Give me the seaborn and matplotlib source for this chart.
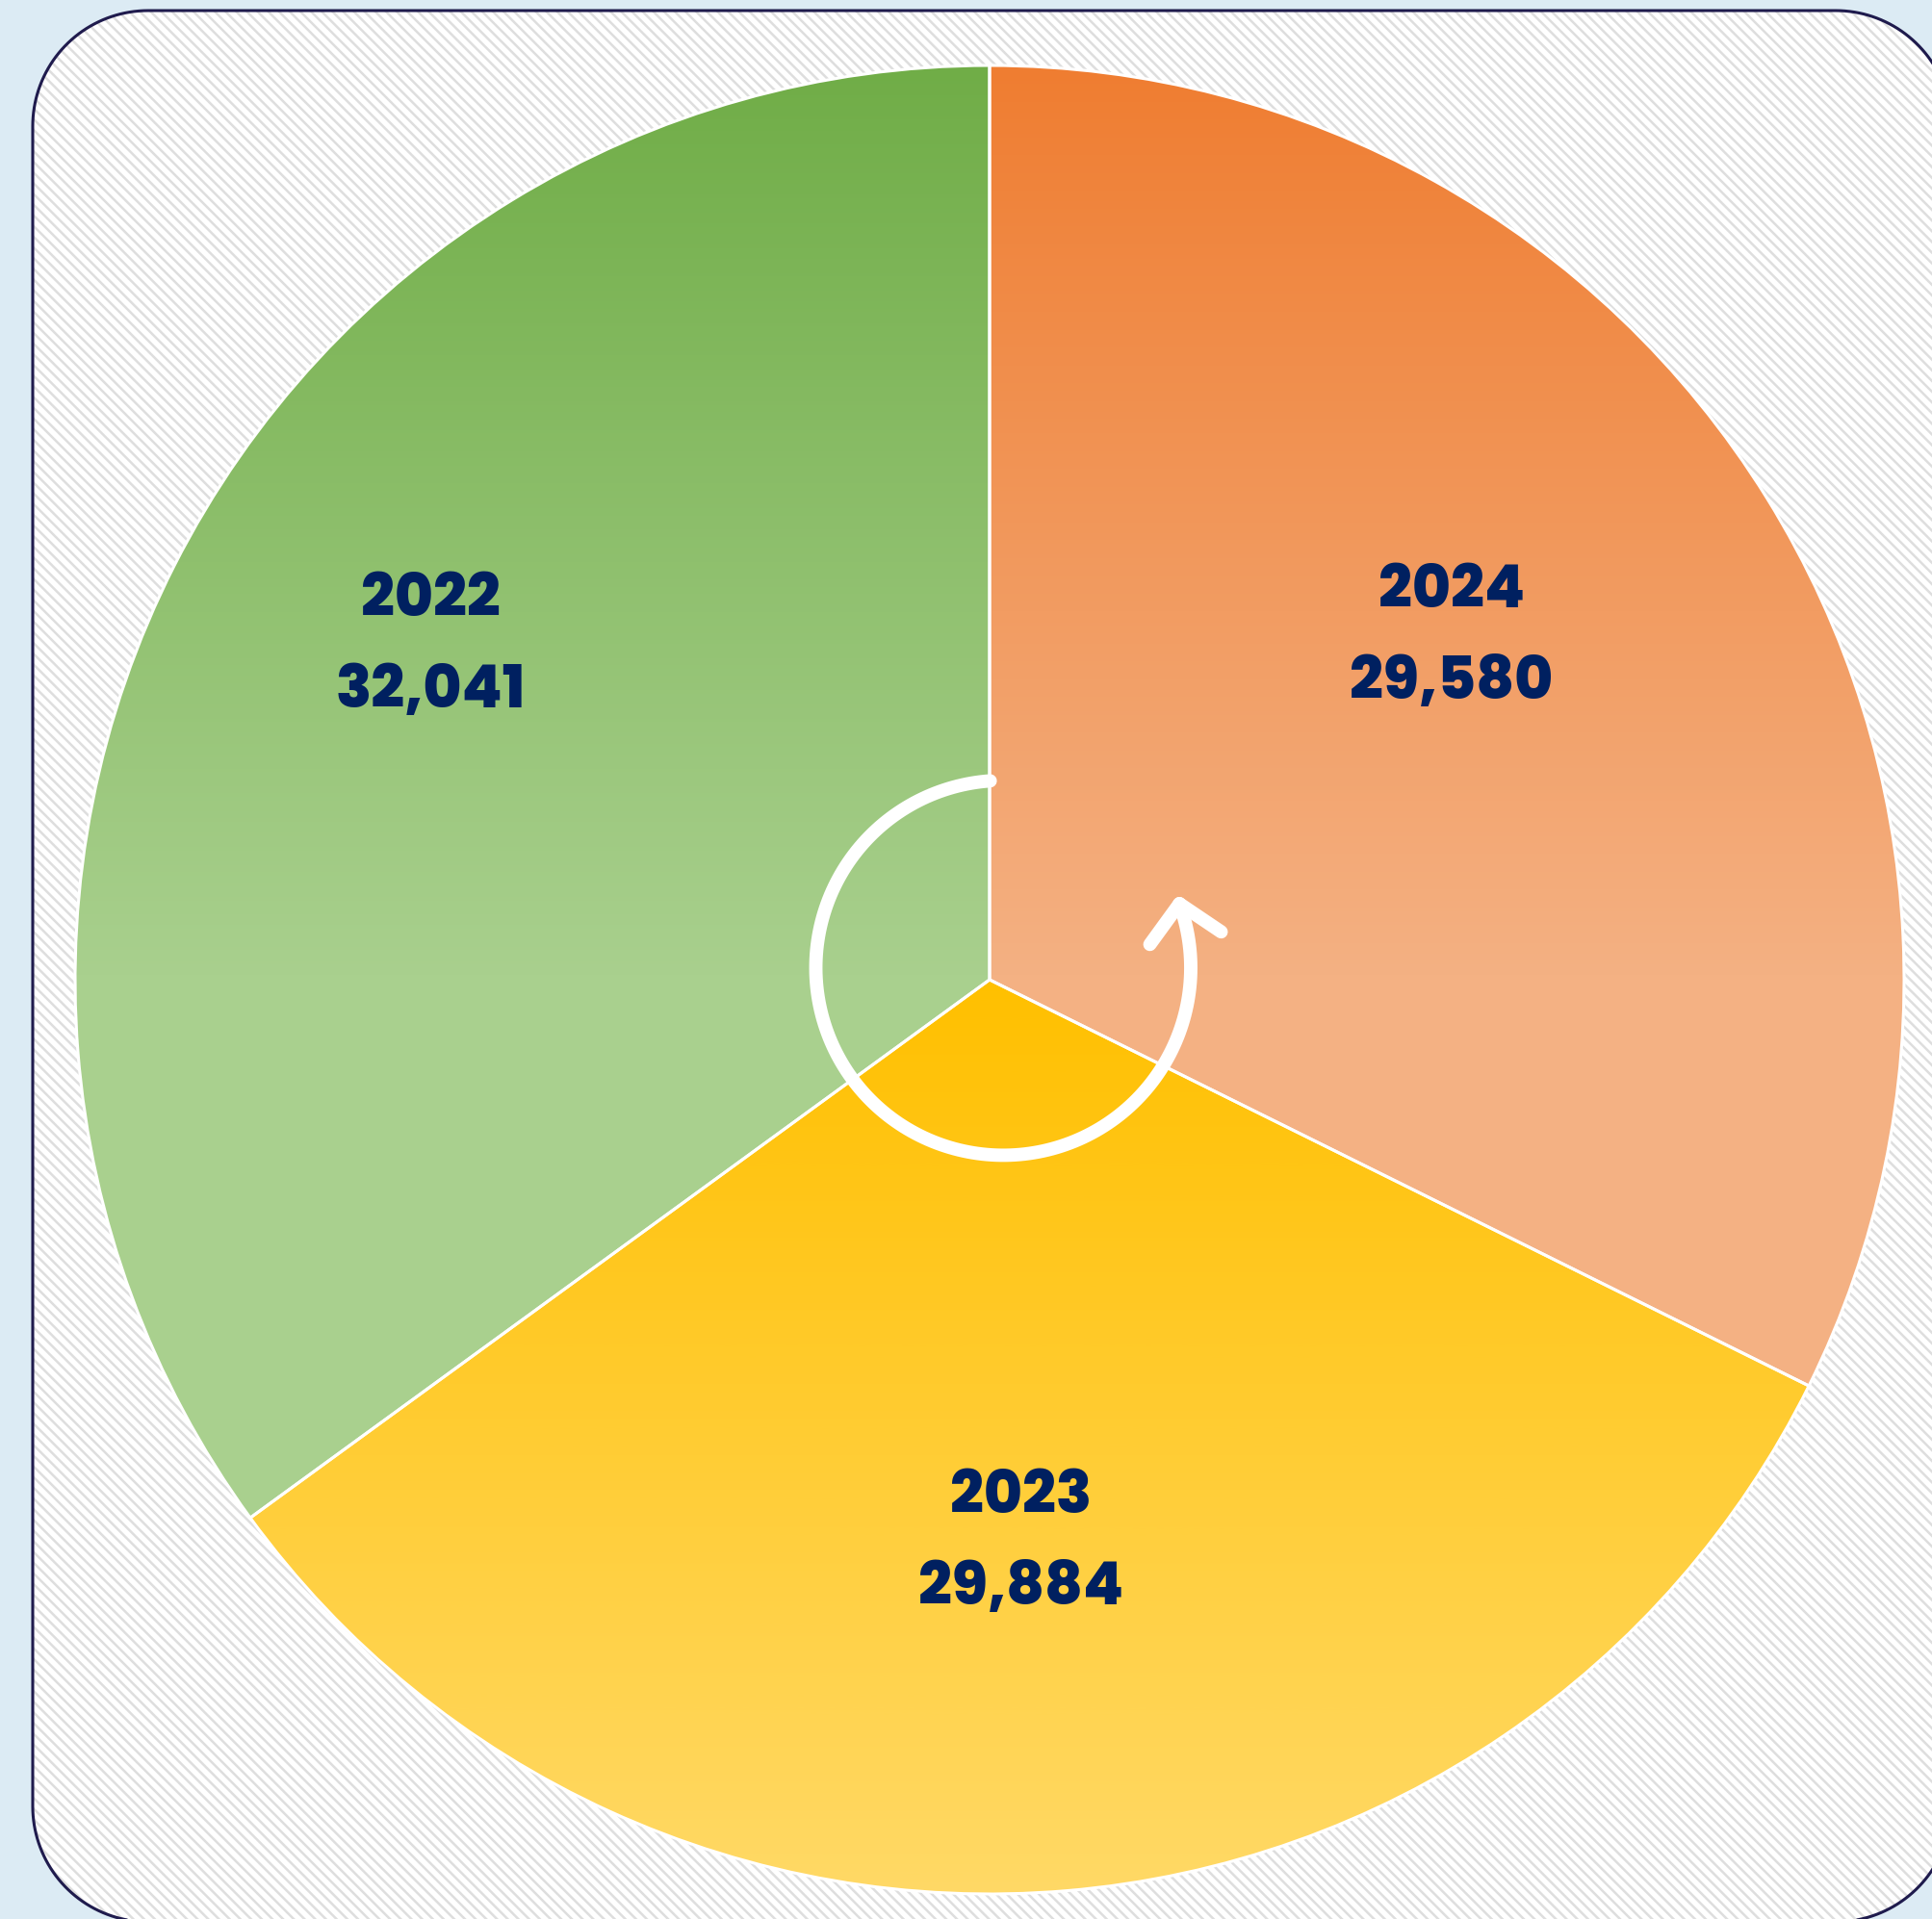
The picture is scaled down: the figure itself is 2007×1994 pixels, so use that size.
import numpy as np
import matplotlib
matplotlib.use("Agg")
import matplotlib.pyplot as plt
import seaborn as sns
from matplotlib.patches import Polygon

# data
years = ["2024", "2023", "2022"]
totals = [29580, 29884, 32041]
top_colors = ["#ef7d31", "#ffc000", "#70ad47"]
bottom_colors = ["#f4b183", "#ffd966", "#a9d08e"]

# small label nudges (data units) so text sits where the original has it
label_nudge = [(-0.047, 0.030), (-0.021, 0.030), (-0.032, 0.068)]

sns.set_theme(style="white")
plt.rcParams['font.family'] = ['Poppins', 'Inter', 'DejaVu Sans']
plt.rcParams['hatch.linewidth'] = 1.8

W, H, DPI = 2008, 1994, 100
fig = plt.figure(figsize=(W / DPI, H / DPI), dpi=DPI)
fig.patch.set_facecolor("#dcebf4")


def rounded_rect(x0, y0, x1, y1, rr, n=40):
    pts = []
    corners = [(x1 - rr, y1 - rr, 0), (x0 + rr, y1 - rr, 90),
               (x0 + rr, y0 + rr, 180), (x1 - rr, y0 + rr, 270)]
    for cx, cy, a0 in corners:
        a = np.deg2rad(np.linspace(a0, a0 + 90, n))
        pts.extend(zip(cx + rr * np.cos(a), cy + rr * np.sin(a)))
    return np.array(pts)


# background axes in pixel units for the rounded hatched panel
bg = fig.add_axes([0, 0, 1, 1], zorder=0)
bg.set_xlim(0, W)
bg.set_ylim(0, H)
bg.axis("off")
box = rounded_rect(34, H - 1997, 2027, H - 11, 120)
bg.add_patch(Polygon(box, closed=True, facecolor="white", edgecolor="#dedede",
                     linewidth=0, hatch="\\\\\\"))
bg.add_patch(Polygon(box, closed=True, fill=False, edgecolor="#1f1b4d", linewidth=2.2))

ax = fig.add_axes([0, 0, 1, 1], zorder=1)
ax.set_facecolor("none")

wedges, _ = ax.pie(totals, startangle=90, counterclock=False, radius=1,
                   wedgeprops=dict(facecolor="none", edgecolor="white", linewidth=2.2, zorder=3))

# vertical gradient inside each slice: dark at the slice top, light one radius below
for w, c_top, c_bot in zip(wedges, top_colors, bottom_colors):
    ext = w.get_path().get_extents()
    ys = np.linspace(ext.y1, ext.y0, 400)
    grad = np.clip((ext.y1 - ys) / 1.0, 0, 1)[:, None]
    cmap = sns.blend_palette([c_top, c_bot], as_cmap=True)
    im = ax.imshow(grad, cmap=cmap, vmin=0, vmax=1, aspect="auto", origin="upper",
                   extent=(ext.x0, ext.x1, ext.y0, ext.y1), zorder=2, interpolation="bilinear")
    im.set_clip_path(w)

# labels
for w, yr, val, (dx, dy) in zip(wedges, years, totals, label_nudge):
    mid = np.deg2rad((w.theta1 + w.theta2) / 2)
    x, y = 0.65 * np.cos(mid) + dx, 0.65 * np.sin(mid) + dy
    ax.text(x, y + 0.05, yr, ha="center", va="center", fontsize=44,
            fontweight="heavy", color="#002060", zorder=6)
    ax.text(x, y - 0.05, f"{val:,}", ha="center", va="center", fontsize=44,
            fontweight="heavy", color="#002060", zorder=6)

# circular arrow icon in the middle
cx, cy, r = 0.015, 0.013, 0.205
t = np.deg2rad(np.linspace(94, 380, 200))
ax.plot(cx + r * np.cos(t), cy + r * np.sin(t), color="white", lw=10,
        solid_capstyle="round", zorder=5)
tip_x, tip_y = cx + r * np.cos(t[-1]), cy + r * np.sin(t[-1])
for a in (-126, -34):
    ax.plot([tip_x, tip_x + 0.055 * np.cos(np.deg2rad(a))],
            [tip_y, tip_y + 0.055 * np.sin(np.deg2rad(a))],
            color="white", lw=10, solid_capstyle="round", zorder=5)

ax.set_xlim(-1028 / 950, 980 / 950)
ax.set_ylim(-976 / 950, 1018 / 950)
ax.set_aspect("auto")
ax.axis("off")

fig.savefig("out.png", dpi=DPI, facecolor=fig.get_facecolor())
